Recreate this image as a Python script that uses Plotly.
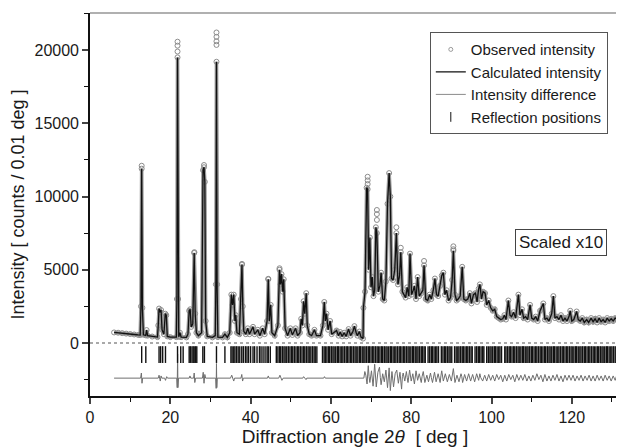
import plotly.graph_objects as go

# ---------------- data ----------------
# low-angle part (counts, unscaled)
low_tth = [6.0, 7.0, 8.0, 9.0, 10.0, 11.0, 12.0, 12.5, 12.7, 12.87, 13.05, 13.3, 13.9, 14.1, 14.35, 15.5,
           16.8, 17.0, 17.2, 17.45, 17.7, 17.95, 18.4, 18.75, 19.0, 19.25, 20.0, 21.5, 21.65, 21.8, 21.95,
           22.1, 22.4, 22.7, 24.0, 24.4, 24.7, 24.95, 25.2, 25.6, 25.95, 26.2, 26.5, 27.0, 27.8, 28.15,
           28.4, 28.6, 28.8, 29.2, 30.5, 31.2, 31.35, 31.5, 31.65, 31.85, 33.0, 33.6, 34.2, 34.8, 35.2,
           35.5, 35.8, 36.1, 36.3, 36.6, 37.2, 37.6, 37.85, 38.05, 38.3, 38.8, 39.3, 39.7, 40.6, 41.0,
           41.8, 42.3, 43.0, 43.5, 44.1, 44.4, 44.65, 45.0, 45.3, 46.0, 46.8, 47.2, 47.45, 47.7, 48.0,
           48.25, 48.6, 49.2, 49.9, 50.4, 51.2, 51.7, 52.3, 52.6, 52.9, 53.2, 53.5, 53.85, 54.1, 54.6,
           55.2, 55.9, 56.4, 57.4, 58.0, 58.35, 58.6, 58.9, 59.3, 59.8, 60.2, 61.4, 61.9, 62.3, 62.8,
           63.3, 63.8, 64.4, 64.9, 65.5, 65.85, 66.3, 66.6, 67.1, 67.5, 68.0]
low_int = [720, 700, 670, 640, 610, 580, 550, 540, 2500, 11900, 2400, 560, 520, 880, 500, 440,
           400, 1200, 2350, 2100, 2250, 900, 600, 2000, 1900, 450, 400, 400, 3000, 19500, 3000,
           420, 700, 400, 380, 600, 2200, 2300, 1100, 1300, 6150, 2000, 700, 500, 700, 11800,
           12000, 11000, 1500, 450, 380, 500, 4000, 19200, 4000, 400, 380, 600, 380, 700, 3300,
           2600, 3300, 1500, 1900, 700, 600, 3000, 5350, 2500, 800, 600, 1000, 600, 1100, 600,
           900, 500, 1000, 600, 1500, 4350, 1500, 2600, 700, 500, 1200, 5000, 4000, 4700, 3500,
           4350, 1000, 500, 1000, 550, 1000, 500, 700, 1650, 1200, 2850, 2000, 3400, 1200, 600,
           500, 900, 500, 500, 1200, 2800, 1500, 2000, 900, 1500, 600, 850, 500, 750, 450,
           700, 450, 950, 500, 800, 1150, 700, 500, 780, 400, 300]

# high-angle part (raw counts, shown scaled x10)
high_tth = [68.1, 68.5, 68.9, 69.15, 69.4, 69.7, 70.0, 70.3, 70.6, 70.9, 71.2, 71.45, 71.8, 72.2, 72.5,
            72.9, 73.3, 73.7, 74.1, 74.5, 74.8, 75.1, 75.5, 75.9, 76.3, 76.7, 77.1, 77.4, 77.8, 78.2,
            78.6, 79.0, 79.4, 79.7, 80.1, 80.5, 80.8, 81.2, 81.6, 82.0, 82.5, 82.9, 83.2, 83.6, 84.1,
            84.6, 85.0, 85.5, 85.9, 86.3, 86.7, 87.2, 87.6, 88.0, 88.4, 88.8, 89.3, 89.8, 90.2, 90.5,
            90.9, 91.3, 91.7, 92.2, 92.7, 93.1, 93.6, 94.1, 94.6, 95.0, 95.5, 96.0, 96.4, 96.8, 97.1,
            97.5, 97.9, 98.4, 98.8, 99.3, 99.8, 100.3, 100.8, 101.3, 101.8, 102.3, 102.8, 103.2, 103.6,
            104.2, 104.6, 105.0, 105.5, 106.0, 106.7, 107.1, 107.6, 108.0, 108.5, 109.0, 109.6, 110.0,
            110.5, 111.0, 111.5, 112.1, 112.9, 113.3, 113.8, 114.3, 115.0, 115.4, 115.8, 116.3, 116.8,
            117.3, 117.8, 118.3, 118.8, 119.3, 119.6, 120.0, 120.5, 121.2, 121.6, 122.1, 122.6, 123.1,
            123.7, 124.2, 124.8, 125.3, 125.8, 126.3, 126.8, 127.3, 127.8, 128.3, 128.8, 129.3, 129.8,
            130.3, 130.8, 131.2]
high_int = [240, 350, 1060, 1050, 500, 720, 380, 450, 320, 360, 790, 750, 350, 390, 480,
            300, 290, 420, 950, 1160, 1000, 440, 430, 500, 750, 400, 460, 620, 350, 330,
            310, 380, 320, 610, 330, 360, 390, 300, 450, 320, 340, 360, 530, 300, 290,
            330, 300, 360, 440, 330, 320, 390, 460, 480, 330, 360, 290, 310, 430, 630,
            330, 290, 300, 320, 520, 300, 290, 300, 340, 270, 330, 340, 280, 370, 400,
            300, 350, 340, 260, 290, 240, 220, 230, 180, 170, 160, 165, 190, 160,
            290, 190, 180, 210, 170, 330, 190, 230, 170, 180, 160, 260, 170,
            160, 180, 150, 220, 270, 160, 170, 150, 200, 320, 170, 180, 160,
            190, 150, 170, 150, 180, 220, 150, 160, 215, 160, 150, 170, 140,
            160, 140, 170, 145, 165, 140, 170, 145, 160, 140, 170, 150, 165,
            150, 170, 165]
SCALE = 10

# observed points that stand above the calculated tops
obs_top_tth = [12.87, 21.8, 21.8, 21.8, 26.0, 28.4, 31.5, 31.5, 31.5, 31.5, 37.85, 44.4, 47.2]
obs_top_int = [12100, 20570, 20300, 19900, 6200, 12150, 21200, 20900, 20600, 20350, 5400, 4380, 5100]
obs_top_tth_hi = [69.15, 69.15, 69.15, 71.45, 71.45, 71.45, 76.3, 77.4, 83.2, 90.5, 90.5]
obs_top_int_hi = [1135, 1110, 1085, 908, 880, 840, 790, 650, 560, 660, 640]

# difference curve (obs - calc), low part in counts, high part raw (scaled x10)
DIFF_OFFSET = -2400
diff_tth_low = [6.0, 12.6, 12.8, 12.95, 13.1, 17.0, 17.2, 17.5, 17.7, 17.9, 18.6, 18.8, 19.1, 19.3,
                21.6, 21.72, 21.82, 21.9, 22.05, 24.7, 24.9, 25.1, 25.8, 25.95, 26.1, 26.3, 28.0, 28.2,
                28.4, 28.6, 28.8, 31.3, 31.42, 31.5, 31.58, 31.7, 35.0, 35.3, 35.8, 36.0, 37.6, 37.8,
                38.0, 38.2, 44.2, 44.4, 44.6, 47.0, 47.3, 47.8, 48.1, 53.0, 53.2, 53.8, 54.0, 58.2,
                58.4, 58.6, 68.0]
diff_int_low = [0, 0, 350, -350, 0, 0, 200, -200, 150, 0, 0, -150, 100, 0,
                0, -650, 1650, -650, 0, 0, 150, 0, 0, 350, -300, 0, 0, 400,
                -350, 250, 0, 0, -700, 1000, -650, 0, 0, 200, -200, 0, 0, 250,
                -200, 0, 0, 150, 0, 0, 200, -150, 0, 0, 100, -100, 0, 0,
                100, 0, 0]
diff_tth_hi = [68.2, 68.45, 68.7, 69.0, 69.3, 69.5, 69.7, 70.1, 70.3, 70.5, 70.9, 71.1, 71.3, 71.7,
               72.1, 72.3, 72.5, 72.9, 73.3, 73.5, 73.7, 74.1, 74.3, 74.5, 74.8, 75.0, 75.2, 75.6,
               75.8, 76.0, 76.4, 76.6, 76.8, 77.2, 77.6, 77.8, 78.0, 78.4, 78.8, 79.0, 79.2, 79.6,
               80.0, 80.4, 80.6, 80.8, 81.2, 81.6, 82.0, 82.5, 82.7, 83.0, 83.4, 83.9, 84.3, 84.8,
               85.0, 85.3, 85.8, 86.2, 86.7, 87.2, 87.4, 87.6, 88.0, 88.5, 89.0, 89.5, 90.0, 90.3,
               90.5, 90.9, 91.4, 91.9, 92.4, 92.6, 92.8, 93.3, 93.8, 94.3, 94.8, 95.3, 95.8, 96.3,
               96.8, 97.1, 97.3, 97.8, 98.3, 98.8, 99.3, 99.8, 100.3, 100.8, 101.3, 101.8, 102.3,
               102.8, 103.3, 103.8, 104.3, 104.8, 105.3, 105.8, 106.3, 106.8, 107.3, 107.8, 108.3,
               108.8, 109.3, 109.8, 110.3, 110.8, 111.3, 111.8, 112.3, 112.8, 113.3, 113.8, 114.3,
               114.8, 115.3, 115.8, 116.3, 116.8, 117.3, 117.8, 118.3, 118.8, 119.3, 119.8, 120.3,
               120.8, 121.3, 121.8, 122.3, 122.8, 123.3, 123.8, 124.3, 124.8, 125.3, 125.8, 126.3,
               126.8, 127.3, 127.8, 128.3, 128.8, 129.3, 129.8, 130.3, 130.8, 131.2]
diff_int_hi = [0, 45, 20, -40, 85, 10, -30, 50, -15, -55, 95, 30, -60, 40,
               75, 5, -45, 30, -25, 15, 55, -65, 20, 70, -85, -20, 45, -60,
               5, 30, 55, 10, -35, 40, -75, 10, 35, -20, 45, 5, -30, 55,
               -20, 30, -5, -40, 50, -15, 30, -30, 10, 45, -30, 20, -25, 35,
               5, -30, 40, -25, 30, -30, 15, 50, -20, 30, -25, 25, -20, 20,
               65, -30, 20, -25, 30, 10, -30, 25, -20, 30, -20, 25, -25, 30,
               -15, 30, 5, -20, 20, -20, 25, -15, 20, -20, 25, -10, 20,
               -25, 20, -20, 25, -10, 20, -25, 25, -15, 20, -15, 25, -20,
               15, -20, 20, -15, 30, -10, 20, -25, 25, -20, 15, -20, 20,
               -15, 25, -20, 15, -25, 20, -15, 20, -15, 20, -20, 15,
               -15, 20, -20, 15, -15, 20, -20, 15, -20, 20, -15, 15,
               -20, 20, -15, 15, -20, 15, -15, 20, -15, 5]

# reflection positions (deg 2theta)
refl_tth = [12.87, 13.9, 17.2, 17.6, 18.1, 18.8, 21.8, 22.6, 23.2, 24.7, 25.0, 25.4, 25.7, 25.95,
            26.3, 26.6, 28.1, 28.5, 31.5, 33.6, 35.1, 35.4, 35.8, 36.1, 36.5, 36.9, 37.3, 37.8,
            38.2, 38.7, 39.1, 39.5, 40.0, 40.6, 41.0, 41.6, 42.2, 42.6, 43.1, 43.6, 44.1, 44.4,
            44.9, 46.4, 46.8, 47.2, 47.5, 47.9, 48.3, 48.6, 49.0, 49.4, 49.8, 50.2, 50.5, 50.9,
            51.3, 51.7, 52.0, 52.4, 52.8, 53.2, 53.5, 53.9, 54.3, 54.6, 55.0, 55.4, 55.8, 56.1,
            56.5, 57.9, 58.3, 58.6, 59.0, 59.4, 59.7, 60.1, 60.5, 60.8, 61.2, 61.6, 61.9, 62.3,
            62.7, 63.0, 63.4, 63.8, 64.1, 64.5, 64.9, 65.2, 65.6, 66.0, 66.3, 66.7, 67.1, 67.4,
            67.8, 68.2, 68.5, 68.9, 69.3, 69.6, 70.0, 70.4, 70.7, 71.1, 71.5, 71.8, 72.2, 72.6,
            72.9, 73.3, 73.7, 74.0, 74.4, 74.8, 75.1, 75.5, 75.9, 76.2, 76.6, 77.0, 77.3, 77.7,
            78.1, 78.4, 78.8, 79.2, 79.5, 79.9, 80.3, 80.6, 81.0, 81.4, 81.7, 82.1, 82.5, 82.8,
            83.2, 83.5, 84.2, 84.6, 85.0, 85.3, 85.7, 86.1, 86.4, 86.8, 87.5, 87.9, 88.3, 88.6,
            89.0, 89.4, 89.7, 90.1, 90.8, 91.2, 91.6, 91.9, 92.3, 92.7, 93.0, 93.4, 93.8, 94.1,
            94.5, 94.9, 95.2, 95.9, 96.3, 96.7, 97.0, 97.4, 97.8, 98.1, 98.8, 99.2, 99.6, 99.9,
            100.3, 100.7, 101.0, 101.4, 101.8, 102.1, 102.5, 103.3, 103.6, 104.0, 104.4, 104.7,
            105.1, 105.5, 105.8, 106.2, 106.6, 106.9, 107.3, 107.7, 108.0, 108.4, 108.8, 109.1,
            109.5, 109.9, 110.2, 110.6, 111.0, 111.3, 111.7, 112.1, 112.4, 112.8, 113.2, 113.5,
            113.9, 114.3, 114.6, 115.0, 115.4, 115.7, 116.1, 116.5, 116.8, 117.2, 117.6, 117.9,
            118.3, 118.7, 119.0, 119.4, 119.8, 120.1, 120.5, 120.9, 121.2, 121.6, 122.0, 122.3,
            122.7, 123.1, 123.4, 123.8, 124.2, 124.5, 124.9, 125.3, 125.6, 126.0, 126.4, 126.7,
            127.1, 127.5, 127.8, 128.2, 128.6, 128.9, 129.3, 129.7, 130.0, 130.4, 130.8, 131.1]
REFL_LEVEL = -790

x_ticks = [0, 20, 40, 60, 80, 100, 120]
y_ticks = [0, 5000, 10000, 15000, 20000]
y_tick_text = ["0", "5000", "10000", "15000", "20000"]

# ---------------- assemble ----------------
calc_x = low_tth + high_tth
calc_y = low_int + [v * SCALE for v in high_int]
obs_x = calc_x + obs_top_tth + obs_top_tth_hi
obs_y = calc_y + obs_top_int + [v * SCALE for v in obs_top_int_hi]
diff_x = diff_tth_low + diff_tth_hi
diff_y = [DIFF_OFFSET + v for v in diff_int_low] + [DIFF_OFFSET + v * SCALE for v in diff_int_hi]

FONT = "Liberation Sans, Arial, sans-serif"
fig = go.Figure()

# observed (data): dense band of points along the profile, plus the points themselves
fig.add_trace(go.Scatter(x=calc_x, y=calc_y, mode="lines", showlegend=False, hoverinfo="skip",
                         line=dict(color="#9a9a9a", width=3.6)))
fig.add_trace(go.Scatter(x=obs_x, y=obs_y, mode="markers", showlegend=False,
                         marker=dict(symbol="circle-open", size=5, color="#8c8c8c",
                                     line=dict(width=1, color="#8c8c8c"))))
# calculated
fig.add_trace(go.Scatter(x=calc_x, y=calc_y, mode="lines", showlegend=False,
                         line=dict(color="#111111", width=1.3)))
# difference
fig.add_trace(go.Scatter(x=diff_x, y=diff_y, mode="lines", showlegend=False,
                         line=dict(color="#6e6e6e", width=1)))
# reflections
fig.add_trace(go.Scatter(x=refl_tth, y=[REFL_LEVEL] * len(refl_tth), mode="markers", showlegend=False,
                         marker=dict(symbol="line-ns-open", size=12, color="#111111",
                                     line=dict(width=1.4, color="#111111"))))

# legend entries
fig.add_trace(go.Scatter(x=[None], y=[None], mode="markers", name="Observed intensity",
                         marker=dict(symbol="circle-open", size=4, color="#9a9a9a",
                                     line=dict(width=1, color="#9a9a9a"))))
fig.add_trace(go.Scatter(x=[None], y=[None], mode="lines", name="Calculated intensity",
                         line=dict(color="#111111", width=1.3)))
fig.add_trace(go.Scatter(x=[None], y=[None], mode="lines", name="Intensity difference",
                         line=dict(color="#8a8a8a", width=1)))
fig.add_trace(go.Scatter(x=[None], y=[None], mode="markers", name="Reflection positions",
                         marker=dict(symbol="line-ns-open", size=7, color="#111111",
                                     line=dict(width=1, color="#111111"))))

# zero line
fig.add_hline(y=0, line=dict(color="#555555", width=1.2, dash="dot"))
# top frame line (gray)
fig.add_shape(type="line", xref="paper", yref="paper", x0=0, x1=1.02, y0=1, y1=1,
              line=dict(color="#b0b0b0", width=2))

fig.add_annotation(x=117.4, y=6830, text="Scaled x10", showarrow=False,
                   font=dict(family=FONT, size=17, color="#1a1a1a"),
                   bordercolor="#444444", borderwidth=1, borderpad=3, bgcolor="white")

# page body adds an 8px offset: the figure is sized to the remaining area
fig.update_layout(
    width=616, height=439,
    margin=dict(l=82, r=4, t=5, b=51),
    paper_bgcolor="white", plot_bgcolor="white",
    font=dict(family=FONT, size=16, color="#1a1a1a"),
    legend=dict(x=0.977, y=0.95, xanchor="right", yanchor="top",
                bordercolor="#555555", borderwidth=1, bgcolor="white",
                font=dict(family=FONT, size=15, color="#1a1a1a"),
                tracegroupgap=0, itemwidth=30),
)
fig.update_xaxes(range=[0, 132], tickvals=x_ticks, ticks="outside", ticklen=6, tickwidth=1.5,
                 showline=True, linecolor="#111111", linewidth=1.6, showgrid=False, zeroline=False,
                 tickfont=dict(size=16), minor=dict(dtick=10, tick0=0, ticks="outside", ticklen=4,
                                                     tickwidth=1.2, tickcolor="#111111"),
                 title=dict(text="Diffraction angle 2<i>θ</i>  [ deg ]", font=dict(size=19), standoff=2))
fig.update_yaxes(range=[-3620, 22530], tickvals=y_ticks, ticktext=y_tick_text, ticks="outside",
                 ticklen=6, tickwidth=1.5,
                 showline=True, linecolor="#111111", linewidth=1.6, showgrid=False, zeroline=False,
                 tickfont=dict(size=16), minor=dict(dtick=2500, tick0=0, ticks="outside", ticklen=4,
                                                     tickwidth=1.2, tickcolor="#111111"),
                 title=dict(text="Intensity [ counts / 0.01 deg ]", font=dict(size=18), standoff=5))

fig.write_html("out.html")
